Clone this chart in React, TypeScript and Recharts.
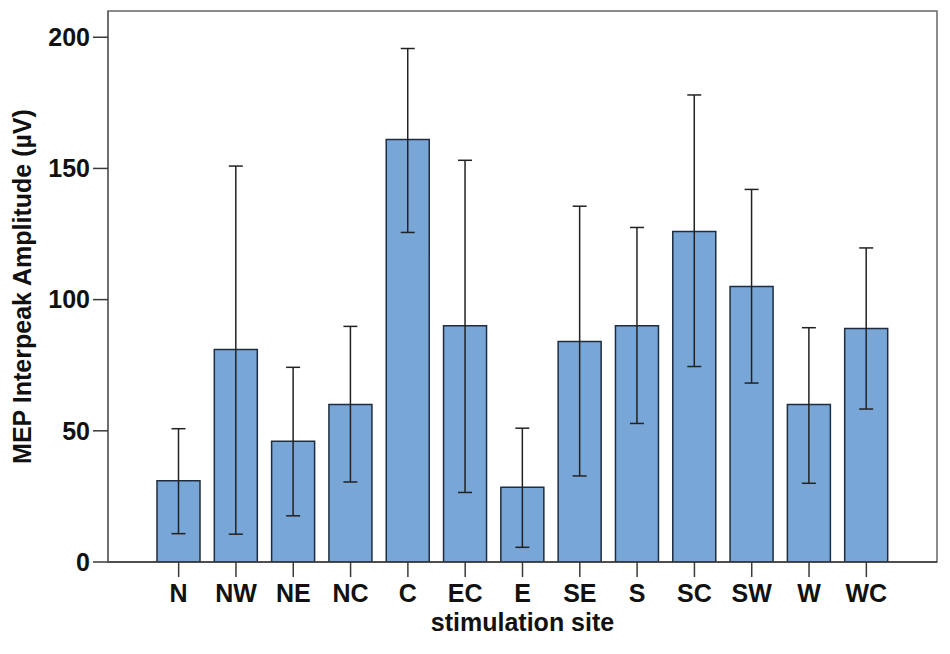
import * as Recharts from "recharts";
import { BarChart, Bar, XAxis, YAxis, ErrorBar, Label } from "recharts";

const sites = ["N", "NW", "NE", "NC", "C", "EC", "E", "SE", "S", "SC", "SW", "W", "WC"];
const means = [31, 81, 46, 60, 161, 90, 28.5, 84, 90, 126, 105, 60, 89];
const lower = [10.8, 10.6, 17.6, 30.5, 125.6, 26.5, 5.6, 32.8, 52.8, 74.5, 68.2, 30, 58.3];
const upper = [50.8, 150.9, 74.2, 89.8, 195.7, 153.1, 51, 135.6, 127.5, 178, 142, 89.3, 119.7];
const yTicks = [0, 50, 100, 150, 200];

const data = sites.map((site, i) => ({
  site,
  mean: means[i],
  err: [means[i] - lower[i], upper[i] - means[i]]
}));

const FONT = "'Liberation Sans', Arial, sans-serif";
const AXIS = "#3a3a3a";
const FRAME = "#666";

const W = 942;
const H = 646;
const MARGIN = { top: 3, right: 13, left: 0, bottom: 12 };
const Y_AXIS_W = 100;
const X_AXIS_H = 80;

const tickStyle = {
  fontFamily: FONT,
  fontSize: 25,
  fontWeight: 700,
  fill: "#111"
};

// box round the plot area (top and right edges)
const Frame = () => {
  const hook = (Recharts as any).usePlotArea;
  const pa = hook
    ? hook()
    : {
        x: MARGIN.left + Y_AXIS_W,
        y: MARGIN.top,
        width: W - MARGIN.left - MARGIN.right - Y_AXIS_W,
        height: H - MARGIN.top - MARGIN.bottom - X_AXIS_H
      };
  if (!pa) return null;
  return (
    <rect
      x={pa.x}
      y={pa.y}
      width={pa.width}
      height={pa.height}
      fill="none"
      stroke={FRAME}
      strokeWidth={1.5}
    />
  );
};

const YTitle = (props: any) => {
  const vb = props.viewBox || { x: 0, y: 3, width: 100, height: 551 };
  const cx = vb.x + 14;
  const cy = vb.y + vb.height / 2;
  return (
    <text
      x={cx}
      y={cy}
      transform={`rotate(-90 ${cx} ${cy})`}
      textAnchor="middle"
      dominantBaseline="central"
      style={tickStyle}
    >
      MEP Interpeak Amplitude (µV)
    </text>
  );
};

const XTitle = (props: any) => {
  const vb = props.viewBox || { x: 100, y: 554, width: 829, height: 80 };
  return (
    <text
      x={vb.x + vb.width / 2}
      y={vb.y + 69}
      textAnchor="middle"
      style={tickStyle}
    >
      stimulation site
    </text>
  );
};

const App = () => {
  return (
    <BarChart width={W} height={H} data={data} margin={MARGIN}>
      <Frame />
      <XAxis
        dataKey="site"
        type="category"
        height={X_AXIS_H}
        padding={{ left: 42, right: 42 }}
        tickSize={15}
        tickMargin={7}
        tick={tickStyle}
        axisLine={{ stroke: AXIS, strokeWidth: 1.5 }}
        tickLine={{ stroke: AXIS, strokeWidth: 1.5 }}
        interval={0}
      >
        <Label content={XTitle} />
      </XAxis>
      <YAxis
        width={Y_AXIS_W}
        domain={[0, 210]}
        ticks={yTicks}
        tickSize={15}
        tickMargin={3}
        tick={tickStyle}
        axisLine={{ stroke: FRAME, strokeWidth: 1.5 }}
        tickLine={{ stroke: AXIS, strokeWidth: 1.5 }}
        allowDataOverflow
      >
        <Label content={YTitle} />
      </YAxis>
      <Bar
        dataKey="mean"
        fill="#78a6d6"
        stroke="#1f2d40"
        strokeWidth={1.5}
        barSize={43}
        isAnimationActive={false}
      >
        <ErrorBar
          dataKey="err"
          direction="y"
          width={7}
          stroke="#222"
          strokeWidth={1.5}
        />
      </Bar>
    </BarChart>
  );
};

export default App;
